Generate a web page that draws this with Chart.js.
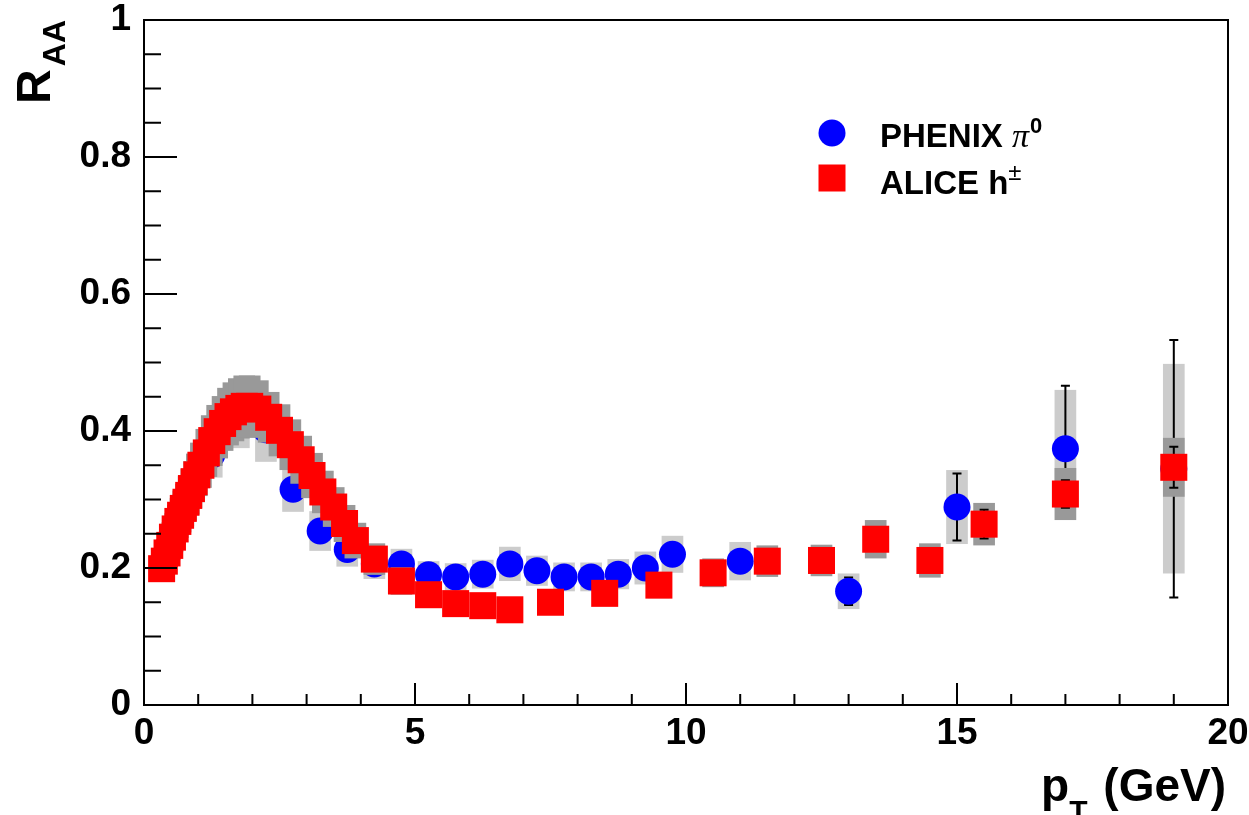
<!DOCTYPE html>
<html>
<head>
<meta charset="utf-8">
<script src="https://cdn.jsdelivr.net/npm/chart.js@4.4.1/dist/chart.umd.min.js"></script>
<style>
  html, body { margin: 0; padding: 0; background: #fff; }
  #wrap { width: 1249px; height: 815px; position: relative; }
</style>
</head>
<body>
<div id="wrap"><canvas id="raa"></canvas></div>
<script>
// PHENIX pi0 (pT in GeV)
const phenixPt   = [1.25, 1.75, 2.25, 2.75, 3.25, 3.75, 4.25, 4.75, 5.25, 5.75, 6.25, 6.75, 7.25, 7.75, 8.25, 8.75, 9.25, 9.75, 11, 13, 15, 17, 19];
const phenixRaa  = [0.365, 0.41, 0.402, 0.315, 0.254, 0.227, 0.206, 0.206, 0.190, 0.187, 0.191, 0.206, 0.196, 0.187, 0.187, 0.191, 0.200, 0.220, 0.210, 0.166, 0.289, 0.374, 0.345];
const phenixStat = [0.003, 0.003, 0.003, 0.003, 0.003, 0.003, 0.003, 0.004, 0.004, 0.004, 0.005, 0.005, 0.006, 0.006, 0.007, 0.008, 0.009, 0.010, 0.012, 0.020, 0.049, 0.092, 0.188];
const phenixSyst = [0.033, 0.035, 0.047, 0.033, 0.029, 0.025, 0.022, 0.022, 0.020, 0.020, 0.021, 0.025, 0.022, 0.021, 0.021, 0.022, 0.024, 0.027, 0.028, 0.026, 0.054, 0.086, 0.153];

// ALICE charged hadrons
const alicePt   = [0.325, 0.375, 0.425, 0.475, 0.525, 0.575, 0.625, 0.675, 0.725, 0.775, 0.825, 0.875, 0.925, 0.975,
                   1.05, 1.15, 1.25, 1.35, 1.45, 1.55, 1.65, 1.75, 1.85, 1.95,
                   2.1, 2.3, 2.5, 2.7, 2.9, 3.1, 3.3, 3.5, 3.7, 3.9,
                   4.25, 4.75, 5.25, 5.75, 6.25, 6.75, 7.5, 8.5, 9.5, 10.5, 11.5, 12.5, 13.5, 14.5, 15.5, 17, 19];
const aliceRaa  = [0.199, 0.210, 0.222, 0.233, 0.245, 0.257, 0.268, 0.277, 0.287, 0.296, 0.306, 0.316, 0.326, 0.336,
                   0.350, 0.368, 0.386, 0.399, 0.411, 0.421, 0.428, 0.433, 0.436, 0.436,
                   0.432, 0.420, 0.401, 0.380, 0.358, 0.335, 0.311, 0.289, 0.265, 0.240,
                   0.213, 0.181, 0.161, 0.148, 0.145, 0.139, 0.150, 0.163, 0.175, 0.193, 0.210, 0.211, 0.242, 0.211, 0.264, 0.308, 0.347];
const aliceStat = [0.001, 0.001, 0.001, 0.001, 0.001, 0.001, 0.001, 0.001, 0.001, 0.001, 0.001, 0.001, 0.001, 0.001,
                   0.001, 0.001, 0.001, 0.001, 0.001, 0.001, 0.001, 0.001, 0.001, 0.001,
                   0.001, 0.001, 0.001, 0.001, 0.001, 0.002, 0.002, 0.002, 0.002, 0.002,
                   0.002, 0.002, 0.002, 0.003, 0.003, 0.003, 0.003, 0.004, 0.005, 0.006, 0.008, 0.010, 0.012, 0.014, 0.021, 0.020, 0.030];
const aliceSyst = [0.018, 0.019, 0.020, 0.021, 0.022, 0.023, 0.024, 0.025, 0.026, 0.027, 0.028, 0.029, 0.030, 0.031,
                   0.033, 0.035, 0.037, 0.039, 0.040, 0.042, 0.043, 0.044, 0.045, 0.045,
                   0.042, 0.037, 0.038, 0.037, 0.035, 0.033, 0.031, 0.029, 0.027, 0.026,
                   0.023, 0.020, 0.018, 0.017, 0.016, 0.016, 0.017, 0.018, 0.019, 0.021, 0.023, 0.023, 0.028, 0.025, 0.031, 0.038, 0.043];

const xTicks = [0, 5, 10, 15, 20];
const yTicks = [0, 0.2, 0.4, 0.6, 0.8, 1];

const FONT = '"Liberation Sans", Arial, Helvetica, sans-serif';
const boxHalf = 0.2; // GeV

function toPoints(xs, ys) {
  return xs.map((v, i) => ({ x: v, y: ys[i] }));
}

// syst boxes + stat bars, drawn just before each dataset's markers
const errorsPlugin = {
  id: 'raaErrors',
  beforeDatasetDraw(chart, args) {
    const ds = chart.data.datasets[args.index];
    const xs = chart.scales.x, ys = chart.scales.y;
    const ctx = chart.ctx;
    ctx.save();
    ctx.fillStyle = ds.boxColor;
    ds.data.forEach((p, i) => {
      const l = xs.getPixelForValue(p.x - boxHalf), r = xs.getPixelForValue(p.x + boxHalf);
      const t = ys.getPixelForValue(p.y + ds.syst[i]), b = ys.getPixelForValue(p.y - ds.syst[i]);
      ctx.fillRect(l, t, r - l, b - t);
    });
    ctx.strokeStyle = '#000';
    ctx.lineWidth = 2;
    ds.data.forEach((p, i) => {
      const cx = xs.getPixelForValue(p.x);
      const t = ys.getPixelForValue(p.y + ds.stat[i]), b = ys.getPixelForValue(p.y - ds.stat[i]);
      if (b - t < 6) return;
      ctx.beginPath();
      ctx.moveTo(cx, t); ctx.lineTo(cx, b);
      ctx.moveTo(cx - 4.5, t); ctx.lineTo(cx + 4.5, t);
      ctx.moveTo(cx - 4.5, b); ctx.lineTo(cx + 4.5, b);
      ctx.stroke();
    });
    ctx.restore();
  }
};

// ROOT style frame, inward ticks, titles and legend
const framePlugin = {
  id: 'rootFrame',
  afterDraw(chart) {
    const ctx = chart.ctx;
    const a = chart.chartArea;
    const xs = chart.scales.x, ys = chart.scales.y;
    ctx.save();
    ctx.strokeStyle = '#000';
    ctx.lineWidth = 2;
    ctx.strokeRect(a.left, a.top, a.right - a.left, a.bottom - a.top);

    ctx.beginPath();
    for (let v = 0; v <= 20.001; v += 1) {
      const px = xs.getPixelForValue(v);
      const len = (Math.round(v) % 5 === 0) ? 22 : 11;
      ctx.moveTo(px, a.bottom); ctx.lineTo(px, a.bottom - len);
    }
    for (let k = 0; k <= 20; k++) {
      const v = k * 0.05;
      const py = ys.getPixelForValue(v);
      const len = (k % 4 === 0) ? 33 : 17;
      ctx.moveTo(a.left, py); ctx.lineTo(a.left + len, py);
    }
    ctx.stroke();

    ctx.fillStyle = '#000';
    ctx.textBaseline = 'alphabetic';

    // y title: R_AA
    ctx.save();
    ctx.translate(50, a.top);
    ctx.rotate(-Math.PI / 2);
    ctx.textAlign = 'right';
    ctx.font = 'bold 32px ' + FONT;
    ctx.fillText('AA', 0, 15);
    const wAA = ctx.measureText('AA').width;
    ctx.font = 'bold 48px ' + FONT;
    ctx.fillText('R', -wAA - 3, 0);
    ctx.restore();

    // x title: p_T (GeV)
    ctx.textAlign = 'left';
    ctx.font = 'bold 46px ' + FONT;
    const wG = ctx.measureText(' (GeV)').width;
    const wp = ctx.measureText('p').width;
    ctx.font = 'bold 30px ' + FONT;
    const wT = ctx.measureText('T').width;
    let x0 = 1226 - wG - wT - wp - 3;
    ctx.font = 'bold 46px ' + FONT;
    ctx.fillText('p', x0, 801);
    ctx.font = 'bold 30px ' + FONT;
    ctx.fillText('T', x0 + wp, 821);
    ctx.font = 'bold 46px ' + FONT;
    ctx.fillText(' (GeV)', x0 + wp + wT + 3, 801);

    // legend
    ctx.fillStyle = '#0000ff';
    ctx.beginPath();
    ctx.arc(832, 133, 13.5, 0, Math.PI * 2);
    ctx.fill();
    ctx.fillStyle = '#ff0000';
    ctx.fillRect(818.5, 164.5, 27, 27);

    ctx.fillStyle = '#000';
    ctx.font = 'bold 33px ' + FONT;
    ctx.fillText('PHENIX ', 880, 147);
    let lx = 880 + ctx.measureText('PHENIX ').width;
    ctx.font = 'italic 34px "Liberation Serif", serif';
    ctx.fillText('\u03c0', lx, 147);
    lx += ctx.measureText('\u03c0').width + 1;
    ctx.font = 'bold 22px ' + FONT;
    ctx.fillText('0', lx, 133);

    ctx.font = 'bold 33px ' + FONT;
    ctx.fillText('ALICE h', 880, 194);
    lx = 880 + ctx.measureText('ALICE h').width;
    ctx.font = '24px ' + FONT;
    ctx.fillText('\u00b1', lx, 180);
    ctx.restore();
  }
};

const tickFont = { family: FONT, weight: 'bold', size: 37 };
const tickText = v => String(Math.round(v * 10) / 10);

new Chart(document.getElementById('raa'), {
  type: 'scatter',
  data: {
    datasets: [
      {
        label: 'PHENIX',
        data: toPoints(phenixPt, phenixRaa),
        stat: phenixStat,
        syst: phenixSyst,
        boxColor: '#cccccc',
        pointStyle: 'circle',
        pointRadius: 13.5,
        pointBackgroundColor: '#0000ff',
        pointBorderWidth: 0,
        order: 2
      },
      {
        label: 'ALICE',
        data: toPoints(alicePt, aliceRaa),
        stat: aliceStat,
        syst: aliceSyst,
        boxColor: '#999999',
        pointStyle: 'rect',
        pointRadius: 19.1,
        pointBackgroundColor: '#ff0000',
        pointBorderWidth: 0,
        order: 1
      }
    ]
  },
  options: {
    responsive: true,
    maintainAspectRatio: false,
    animation: false,
    events: [],
    layout: { padding: { left: 0, top: 20, right: 21, bottom: 0 } },
    plugins: { legend: { display: false }, tooltip: { enabled: false } },
    scales: {
      x: {
        type: 'linear', min: 0, max: 20,
        grid: { display: false, drawTicks: false },
        border: { display: false },
        afterBuildTicks(scale) { scale.ticks = xTicks.map(v => ({ value: v })); },
        ticks: { color: '#000', font: tickFont, padding: 7, maxRotation: 0, autoSkip: false, callback: tickText },
        afterFit(scale) {
          scale.height = 110;
          scale.paddingLeft = 0; scale.paddingRight = 0;
        }
      },
      y: {
        type: 'linear', min: 0, max: 1,
        grid: { display: false, drawTicks: false },
        border: { display: false },
        afterBuildTicks(scale) { scale.ticks = yTicks.map(v => ({ value: v })); },
        ticks: { color: '#000', font: tickFont, padding: 13, autoSkip: false, callback: tickText },
        afterFit(scale) {
          scale.width = 144;
          scale.paddingTop = 0; scale.paddingBottom = 0;
        }
      }
    }
  },
  plugins: [errorsPlugin, framePlugin]
});
</script>
</body>
</html>
